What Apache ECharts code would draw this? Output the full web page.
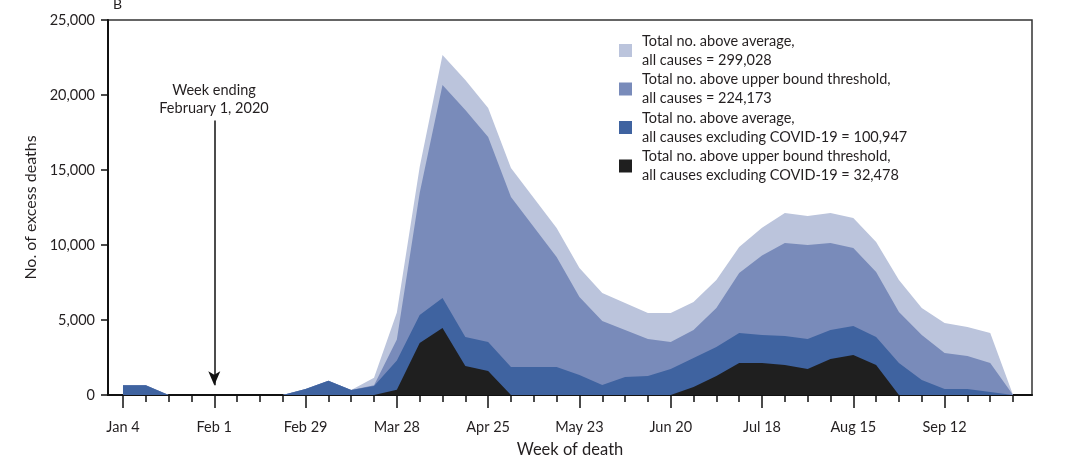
<!DOCTYPE html>
<html>
<head>
<meta charset="utf-8">
<script src="https://cdn.jsdelivr.net/npm/echarts@6/dist/echarts.min.js"></script>
<style>
html,body{margin:0;padding:0;background:#fff;}
#main{width:1080px;height:463px;}
</style>
</head>
<body>
<div id="main"></div>
<script>
// Weeks ending Jan 4 ... Oct 3, 2020 (index 0..39)
var weekCount = 40;
var tickLabels = ['Jan 4','Feb 1','Feb 29','Mar 28','Apr 25','May 23','Jun 20','Jul 18','Aug 15','Sep 12'];
var tickLabelWeeks = [0,4,8,12,16,20,24,28,32,36];

var seriesNames = [
  'Total no. above average,\nall causes = 299,028',
  'Total no. above upper bound threshold,\nall causes = 224,173',
  'Total no. above average,\nall causes excluding COVID-19 = 100,947',
  'Total no. above upper bound threshold,\nall causes excluding COVID-19 = 32,478'
];

var aboveAvgAll = [650,650,0,0,0,0,0,0,400,950,330,1150,5500,15200,22670,21000,19130,15130,13130,11130,8470,6800,6130,5470,5470,6200,7670,9870,11150,12130,11930,12130,11800,10200,7670,5800,4800,4530,4130,0];
var aboveUpperAll = [650,650,0,0,0,0,0,0,400,950,330,650,3700,13470,20670,19000,17200,13200,11200,9200,6530,4930,4330,3730,3530,4330,5800,8130,9300,10130,10000,10130,9800,8200,5530,4000,2800,2600,2130,0];
var aboveAvgExcl = [650,650,0,0,0,0,0,0,400,950,330,600,2300,5330,6470,3870,3530,1870,1870,1870,1330,670,1200,1270,1730,2470,3200,4130,4000,3930,3730,4330,4600,3870,2130,1000,400,400,200,0];
var aboveUpperExcl = [0,0,0,0,0,0,0,0,0,0,0,0,350,3470,4470,1930,1600,0,0,0,0,0,0,0,0,530,1270,2130,2130,2000,1730,2400,2670,2000,0,0,0,0,0,0];

var layerColors = ['#bbc4dc','#798bba','#3f63a0','#1f1f1f'];
var layerData = [aboveAvgAll, aboveUpperAll, aboveAvgExcl, aboveUpperExcl];

var allWeeks = [];
for (var i = 0; i < weekCount; i++) allWeeks.push(i);

var font = 'Lato, "Open Sans", sans-serif';
var ink = '#231f20';

var series = layerData.map(function (vals, k) {
  var s = {
    name: seriesNames[k],
    type: 'line',
    data: vals.map(function (v, i) { return [i, v]; }),
    showSymbol: false,
    symbol: 'none',
    lineStyle: { width: 0 },
    itemStyle: { color: layerColors[k] },
    areaStyle: { color: layerColors[k], opacity: 1 },
    silent: true,
    z: 2 + k
  };
  if (k === 3) {
    s.markLine = {
      silent: true,
      symbol: ['none', 'arrow'],
      symbolSize: [9, 14],
      label: { show: false },
      lineStyle: { color: '#111', width: 1.5, type: 'solid' },
      data: [[{ coord: [4, 18300] }, { coord: [4, 650] }]]
    };
  }
  return s;
});

var chart = echarts.init(document.getElementById('main'), null, { renderer: 'canvas' });
chart.setOption({
  animation: false,
  backgroundColor: '#fff',
  textStyle: { fontFamily: font },
  grid: { left: 108, right: 48, top: 20, bottom: 68, show: true, borderColor: '#333', borderWidth: 1.5, backgroundColor: 'transparent' },
  legend: {
    orient: 'vertical',
    left: 619,
    top: 22,
    padding: 0,
    icon: 'rect',
    itemWidth: 13,
    itemHeight: 13,
    itemGap: -18.5,
    selectedMode: false,
    textStyle: { fontSize: 14.5, lineHeight: 19, color: ink, fontFamily: font, padding: [19, 0, 0, 5] },
    data: seriesNames.slice()
  },
  xAxis: [{
    type: 'value',
    min: -0.657,
    max: 39.83,
    axisLine: { show: true, onZero: false, lineStyle: { color: '#111', width: 2 } },
    axisTick: { show: true, customValues: allWeeks, length: 7, lineStyle: { color: '#111', width: 1.5 } },
    axisLabel: { show: false },
    splitLine: { show: false },
    name: 'Week of death',
    nameLocation: 'middle',
    nameGap: 46,
    nameTextStyle: { fontSize: 16.5, color: ink, fontFamily: font }
  }, {
    type: 'value',
    min: -0.657,
    max: 39.83,
    position: 'bottom',
    axisLine: { show: false, onZero: false },
    axisTick: { show: true, customValues: tickLabelWeeks, length: 13, lineStyle: { color: '#111', width: 1.5 } },
    axisLabel: {
      show: true,
      customValues: tickLabelWeeks,
      margin: 25,
      fontSize: 14.5,
      color: ink,
      fontFamily: font,
      formatter: function (v) { return tickLabels[tickLabelWeeks.indexOf(Math.round(v))] || ''; }
    },
    splitLine: { show: false }
  }],
  yAxis: {
    type: 'value',
    min: 0,
    max: 25000,
    interval: 5000,
    axisLine: { show: true, onZero: false, lineStyle: { color: '#111', width: 2 } },
    axisTick: { show: true, length: 7, lineStyle: { color: '#111', width: 1.5 } },
    axisLabel: {
      margin: 13,
      fontSize: 14.5,
      color: ink,
      fontFamily: font,
      formatter: function (v) { return v.toLocaleString('en-US'); }
    },
    splitLine: { show: false },
    name: 'No. of excess deaths',
    nameLocation: 'middle',
    nameGap: 65,
    nameRotate: 90,
    nameTextStyle: { fontSize: 16, color: ink, fontFamily: font }
  },
  graphic: [
    { type: 'text', left: 113, top: -3, style: { text: 'B', fontSize: 14, fill: ink, fontFamily: font } },
    { type: 'text', x: 214, y: 81, style: { text: 'Week ending\nFebruary 1, 2020', fontSize: 14.5, lineHeight: 18, fill: ink, align: 'center', verticalAlign: 'top', fontFamily: font } }
  ],
  series: series
});
</script>
</body>
</html>
